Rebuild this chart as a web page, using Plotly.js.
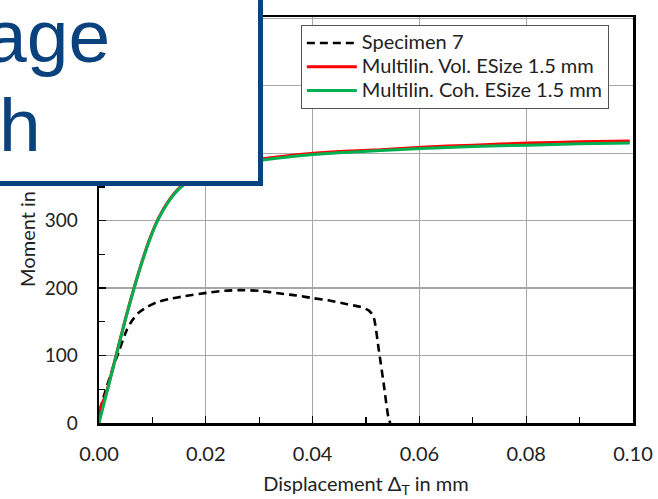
<!DOCTYPE html>
<html>
<head>
<meta charset="utf-8">
<script src="https://cdn.plot.ly/plotly-3.0.1.min.js"></script>
<style>
html,body{margin:0;padding:0;background:#fff;}
#chart{width:658px;height:499px;}
</style>
</head>
<body>
<div id="chart"></div>
<script>
// Data
var seriesNames = ['Specimen 7', 'Multilin. Vol. ESize 1.5 mm', 'Multilin. Coh. ESize 1.5 mm'];

var specX = [0, 0.0005, 0.0015, 0.0028, 0.0038, 0.0052, 0.0062, 0.0075, 0.0090, 0.0108, 0.0133, 0.0160, 0.0202, 0.0235, 0.0264, 0.0300, 0.0339, 0.0370, 0.0402, 0.0435, 0.0465, 0.0490, 0.0505, 0.0514, 0.0524, 0.0533, 0.0543, 0.0546];
var specY = [0, 28, 55, 86, 108, 138, 152, 164, 172, 179, 184, 188, 193, 196, 197, 196, 192, 189, 185, 181, 176, 172, 167, 158, 108, 59, 4, 0];

var volX = [0, 0.0003, 0.0012, 0.0030, 0.0050, 0.0064, 0.0080, 0.0095, 0.0111, 0.0130, 0.0151, 0.0180, 0.0220, 0.0260, 0.0307, 0.0350, 0.0401, 0.0460, 0.0527, 0.0604, 0.0700, 0.0803, 0.0900, 0.0994];
var volY = [0, 24, 40, 94, 156, 196, 238, 273, 303, 329, 349, 366, 379, 387, 392, 396, 400, 403, 405, 409, 412, 415, 417, 418];

var cohX = [0, 0.0010, 0.0020, 0.0030, 0.0050, 0.0064, 0.0080, 0.0095, 0.0111, 0.0130, 0.0151, 0.0180, 0.0220, 0.0260, 0.0307, 0.0350, 0.0401, 0.0460, 0.0527, 0.0604, 0.0700, 0.0803, 0.0900, 0.0994];
var cohY = [0, 31, 62, 93, 155, 195, 237, 272, 302, 328, 348, 364, 377, 385, 390, 394, 398, 401, 404, 407, 410, 412, 414, 415];

var xTickVals = [0, 0.02, 0.04, 0.06, 0.08, 0.10];
var xTickText = ['0.00', '0.02', '0.04', '0.06', '0.08', '0.10'];
var yTickVals = [0, 100, 200, 300, 400, 500, 600];
var yTickText = ['0', '100', '200', '300', '400', '500', '600'];

var xTitle = 'Displacement Δ<sub>T</sub> in mm';
var yTitle = 'Moment in Nm';
var overlayLines = ['age', 'h'];

var textCol = '#222222';
var blue = '#0a427e';

function legendLabel(s) {
  return '<span style="font-size:20px">' + s + '</span>';
}

var traces = [
  {x: specX, y: specY, name: legendLabel(seriesNames[0]), mode: 'lines', type: 'scatter',
   line: {color: '#000000', width: 2.6, dash: '8px,5px', shape: 'spline', smoothing: 0.6}},
  {x: volX, y: volY, name: legendLabel(seriesNames[1]), mode: 'lines', type: 'scatter',
   line: {color: '#ff0000', width: 3, shape: 'spline', smoothing: 0.6}},
  {x: cohX, y: cohY, name: legendLabel(seriesNames[2]), mode: 'lines', type: 'scatter',
   line: {color: '#00b050', width: 3, shape: 'spline', smoothing: 0.6}}
];

var layout = {
  width: 658, height: 499,
  margin: {l: 99, r: 25, t: 17, b: 76},
  paper_bgcolor: '#ffffff', plot_bgcolor: '#ffffff',
  font: {family: 'Lato, sans-serif', size: 19, color: textCol},
  showlegend: true,
  legend: {
    x: 0.378, y: 0.98, xanchor: 'left', yanchor: 'top',
    bgcolor: '#ffffff', bordercolor: '#555555', borderwidth: 1,
    font: {family: 'Lato, sans-serif', size: 16, color: textCol},
    tracegroupgap: 0, itemwidth: 50
  },
  xaxis: {
    range: [0, 0.1], tickvals: xTickVals, ticktext: xTickText,
    showgrid: true, gridcolor: '#a6a6a6', gridwidth: 1.3,
    showline: true, linecolor: '#000000', linewidth: 2.5, mirror: true,
    ticks: 'inside', ticklen: 7, tickcolor: '#000000', tickwidth: 1.3,
    ticklabelstandoff: 11,
    tickfont: {family: 'Lato, sans-serif', size: 20, color: textCol},
    minor: {dtick: 0.01, ticks: 'inside', ticklen: 6, tickcolor: '#000000', tickwidth: 1.3, showgrid: false},
    zeroline: false,
    title: {text: xTitle, standoff: 14, font: {family: 'Lato, sans-serif', size: 20, color: textCol}}
  },
  yaxis: {
    range: [0, 602], tickvals: yTickVals, ticktext: yTickText,
    showgrid: true, gridcolor: '#a6a6a6', gridwidth: 1.3,
    showline: true, linecolor: '#000000', linewidth: 2.5, mirror: true,
    ticks: 'inside', ticklen: 7, tickcolor: '#000000', tickwidth: 1.3,
    ticklabelstandoff: 15,
    tickfont: {family: 'Lato, sans-serif', size: 19, color: textCol},
    minor: {dtick: 50, ticks: 'inside', ticklen: 6, tickcolor: '#000000', tickwidth: 1.3, showgrid: false},
    zeroline: false
  },
  annotations: [
    {text: yTitle, textangle: -90, xref: 'paper', yref: 'paper',
     x: -0.135, y: 0.5, xanchor: 'center', yanchor: 'middle', showarrow: false,
     font: {family: 'Lato, sans-serif', size: 20, color: textCol}},
    {text: ' ', xref: 'paper', yref: 'paper', x: 0.308, y: 0.583,
     xanchor: 'right', yanchor: 'bottom', showarrow: false,
     width: 300, height: 220, bgcolor: '#ffffff', bordercolor: blue, borderwidth: 5, borderpad: 0},
    {text: overlayLines[0], xref: 'paper', yref: 'paper', x: 0.0225, y: 0.847,
     xanchor: 'right', yanchor: 'bottom', showarrow: false, borderpad: 0,
     font: {family: 'Liberation Sans, Arial, sans-serif', size: 75, color: blue}},
    {text: overlayLines[1], xref: 'paper', yref: 'paper', x: -0.1067, y: 0.628,
     xanchor: 'right', yanchor: 'bottom', showarrow: false, borderpad: 0,
     font: {family: 'Liberation Sans, Arial, sans-serif', size: 75, color: blue}}
  ]
};

Plotly.newPlot('chart', traces, layout, {displayModeBar: false, staticPlot: true});
</script>
</body>
</html>
